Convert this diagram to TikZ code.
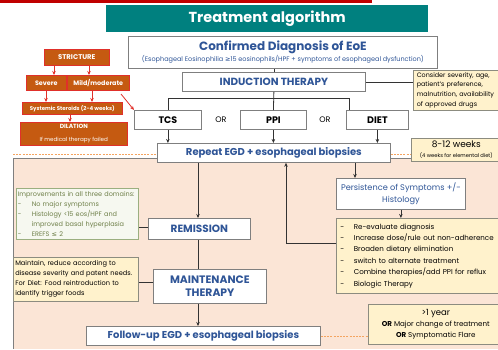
\documentclass[tikz,border=0pt]{standalone}
\usepackage{fontspec}
\setmainfont{Poppins}
\newfontfamily\symf{DejaVu Sans}
\usetikzlibrary{arrows.meta}
\definecolor{tealT}{HTML}{00807F}
\definecolor{blueT}{HTML}{2F5597}
\definecolor{redL}{HTML}{C00000}
\definecolor{redA}{HTML}{E0302A}
\definecolor{orangeF}{HTML}{C55A11}
\definecolor{yfill}{HTML}{FFF2CC}
\definecolor{ybord}{HTML}{8C8C80}
\definecolor{bgray}{HTML}{7F7F7F}
\definecolor{peach}{HTML}{FBE5D6}
\definecolor{dashO}{HTML}{F4A460}
\definecolor{gfill}{HTML}{F6F8F0}
\definecolor{gbord}{HTML}{9BAF80}
\definecolor{gtext}{HTML}{6E7F48}
\newcommand\myfs[2]{\fontsize{#1}{#2}\selectfont}
\tikzset{
  box/.style={draw=bgray, fill=white, line width=0.8pt, inner sep=0pt, anchor=north west, align=center},
  ybox/.style={draw=ybord, fill=yfill, line width=0.6pt, inner sep=0pt, anchor=north west},
  obox/.style={draw=redA, fill=orangeF, text=white, line width=0.6pt, inner sep=0pt, anchor=north west, align=center},
  conn/.style={draw=black!80, line width=0.8pt},
  arr/.style={conn, -{Stealth[length=4pt,width=3.5pt]}},
  rarr/.style={draw=redA, line width=0.8pt, -{Stealth[length=4pt,width=3.5pt]}},
  odash/.style={draw=dashO, line width=0.7pt, dash pattern=on 2pt off 1.2pt},
  bluebold/.style={text=blueT, font=\bfseries},
}
\begin{document}
\begin{tikzpicture}[x=1pt,y=-1pt]
\useasboundingbox (0,0) rectangle (498,349);
% background region
\fill[peach] (13,158) rectangle (498,349);
\draw[bgray, line width=0.8pt] (411,158) -- (13,158) -- (13,349);
\draw[odash] (13,154) -- (411,154);
% top red line
\fill[redL] (0,0) rectangle (372,2.5);
% title
\node[fill=tealT, text=white, inner sep=0pt, anchor=north west, minimum width=322pt, minimum height=27pt, font=\bfseries\myfs{14.5}{16}] (title) at (106,5) {Treatment algorithm};
% main boxes
\node[box, minimum width=309pt, minimum height=32pt] (conf) at (128,36)
  {{\color{blueT}\bfseries\myfs{12}{14}Confirmed Diagnosis of EoE}\\[-1pt]
   {\color{blueT}\myfs{6.5}{8}(Esophageal Eosinophilia {\symf ≥}15 eosinophils/HPF + symptoms of esophageal dysfunction)}};
\node[box, minimum width=183pt, minimum height=19pt, bluebold, font=\bfseries\myfs{10.4}{12}] (ind) at (182,72) {INDUCTION THERAPY};
\node[ybox, minimum width=90pt, minimum height=40pt, text width=86pt, align=left, inner xsep=3.5pt, font=\myfs{6.4}{9.8}] (cons) at (413,70)
  {Consider severity, age,\\ patient's preference,\\ malnutrition, availability\\ of approved drugs};
\node[box, minimum width=67pt, minimum height=19pt, font=\bfseries\myfs{9.5}{11}] (tcs) at (134,110) {TCS};
\node[box, minimum width=66pt, minimum height=19pt, font=\bfseries\myfs{9.5}{11}] (ppi) at (240,110) {PPI};
\node[box, minimum width=62pt, minimum height=19pt, font=\bfseries\myfs{9.5}{11}] (diet) at (346,110) {DIET};
\node[font=\myfs{8}{9}] (or1) at (221,120) {OR};
\node[font=\myfs{8}{9}] (or2) at (325,120) {OR};
\node[box, minimum width=233pt, minimum height=19pt, bluebold, font=\bfseries\myfs{10}{12}] (rep) at (157,143) {Repeat EGD + esophageal biopsies};
\node[ybox, minimum width=90pt, minimum height=23pt, align=center] (wk) at (411,138)
  {{\myfs{9}{10}8-12 weeks}\\[-1.5pt]{\myfs{5.2}{6.5}(4 weeks for elemental diet)}};
\node[box, minimum width=129pt, minimum height=31pt, text=blueT, font=\myfs{8.2}{12}] (pers) at (336,178) {Persistence of Symptoms +/-\\ Histology};
\node[ybox, minimum width=170pt, minimum height=75pt, text width=166pt, align=left, inner xsep=4pt, font=\myfs{7.1}{11.4}] (opts) at (336,218)
  {\makebox[13.5pt][l]{-}Re-evaluate diagnosis\\
   \makebox[13.5pt][l]{-}Increase dose/rule out non-adherence\\
   \makebox[13.5pt][l]{-}Broaden dietary elimination\\
   \makebox[13.5pt][l]{-}switch to alternate treatment\\
   \makebox[13.5pt][l]{-}Combine therapies/add PPI for reflux\\
   \makebox[13.5pt][l]{-}Biologic Therapy};
\node[draw=gbord, fill=gfill, line width=0.6pt, inner sep=0pt, anchor=north west, minimum width=122pt, minimum height=51pt, text width=119pt, inner xsep=1.5pt, align=left, text=gtext, font=\myfs{6.5}{9.9}] (impr) at (16,188)
  {Improvements in all three domains:\\
   \makebox[14pt][l]{-}No major symptoms\\
   \makebox[14pt][l]{-}Histology <15 eos/HPF and\\
   \makebox[14pt][l]{}improved basal hyperplasia\\
   \makebox[14pt][l]{-}EREFS {\symf ≤} 2};
\node[box, minimum width=102pt, minimum height=21pt, bluebold, font=\bfseries\myfs{10.5}{12}] (rem) at (148,218) {REMISSION};
\node[ybox, minimum width=125pt, minimum height=44pt, text width=121pt, inner xsep=2pt, align=left, font=\myfs{6.6}{10}] (mtxt) at (13,257)
  {Maintain, reduce according to\\ disease severity and patent needs.\\ For Diet: Food reintroduction to\\ identify trigger foods};
\node[box, minimum width=113pt, minimum height=34pt, bluebold, font=\bfseries\myfs{10.8}{13}] (maint) at (153,269) {MAINTENANCE\\ THERAPY};
\node[box, minimum width=234pt, minimum height=19pt, bluebold, font=\bfseries\myfs{10}{12}] (fol) at (86,326) {Follow-up EGD + esophageal biopsies};
\node[ybox, minimum width=135pt, minimum height=40pt, align=center, font=\myfs{7.1}{11}] (yr) at (368,304)
  {{\myfs{8.5}{11}>1 year}\\ \textbf{OR} Major change of treatment\\ \textbf{OR} Symptomatic Flare};
% stricture branch
\node[obox, minimum width=65pt, minimum height=16pt, font=\bfseries\myfs{6.9}{8}] (str) at (44,49) {STRICTURE};
\node[obox, minimum width=40pt, minimum height=15pt, font=\bfseries\myfs{6.4}{7}] (sev) at (26,75) {Severe};
\node[obox, minimum width=62pt, minimum height=15pt, font=\bfseries\myfs{6.4}{7}] (mild) at (67,75) {Mild/moderate};
\node[obox, minimum width=100pt, minimum height=12pt, font=\bfseries\myfs{5.4}{6}] (ster) at (22,102) {Systemic Steroids (2-4 weeks)};
\node[obox, minimum width=107pt, minimum height=23pt] (dil) at (20,122)
  {{\bfseries\myfs{6}{7}DILATION}\\[0.5pt]{\myfs{5.6}{6.5}If medical therapy failed}};
% helper coordinates
\coordinate (s1) at (54,0);
\coordinate (s2) at (89,0);
\coordinate (s3) at (46,0);
\coordinate (s4) at (92,0);
\coordinate (s5) at (70,0);
\coordinate (d0) at (121,94);
\coordinate (dj) at (349,110);
\coordinate (pa) at (355,0);
\coordinate (fb) at (286,243);
\coordinate (ra) at (198,0);
\coordinate (ry) at (0,227);
\coordinate (my) at (0,282);
% connectors
\draw[conn] (ind.north) -- (ind.north |- conf.south);
\draw[conn] (ind.south) -- (ppi.north);
\draw[conn] (tcs.north) -- ++(0,-12) -| (dj);
\draw[conn] (ind.east) -- (ind.east -| cons.west);
\draw[arr] (tcs.south) -- (tcs.south |- rep.north);
\draw[arr] (ppi.south) -- (ppi.south |- rep.north);
\draw[arr] (diet.south) -- (diet.south |- rep.north);
\draw[arr] (rep.south -| pa) -- (pers.north -| pa);
\draw[arr] (pers.south) -- (pers.south |- opts.north);
\draw[arr] (opts.west |- fb) -| (rep.south -| fb);
\draw[arr] (rep.south -| ra) -- (rem.north -| ra);
\draw[conn] (rem.west |- ry) -- (impr.east |- ry);
\draw[conn] (rem.south -| ra) -- (maint.north -| ra);
\draw[conn] (maint.west |- my) -- (mtxt.east |- my);
\draw[arr] (maint.south -| ra) -- (fol.north -| ra);
\draw[odash] (fol.east) -- (fol.east -| yr.west);
% red arrows
\draw[rarr] (str.south -| s1) -- (sev.north -| s1);
\draw[rarr] (str.south -| s2) -- (mild.north -| s2);
\draw[rarr] (sev.south -| s3) -- (ster.north -| s3);
\draw[rarr] (mild.south -| s4) -- (ster.north -| s4);
\draw[rarr] (ster.south -| s5) -- (dil.north -| s5);
\draw[rarr] (d0) -- (tcs.north west);
\end{tikzpicture}
\end{document}
